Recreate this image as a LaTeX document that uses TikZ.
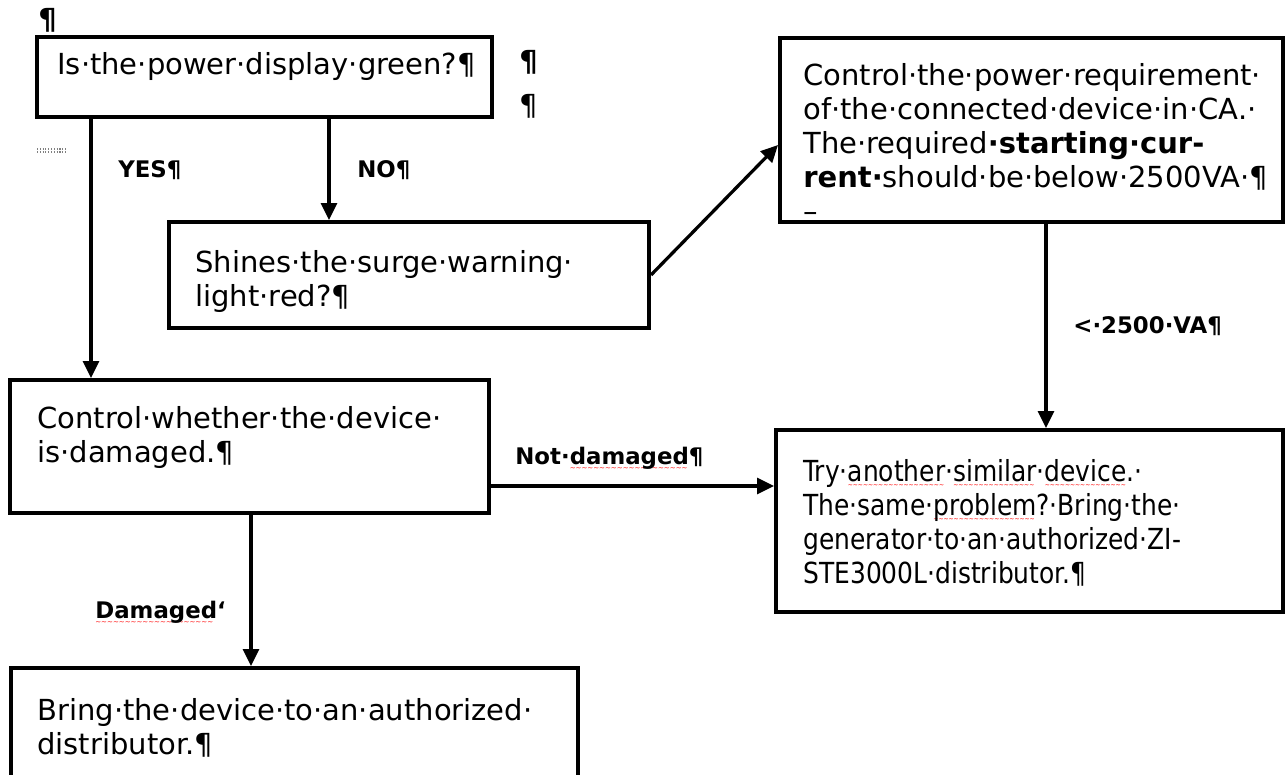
\documentclass[tikz,border=0pt]{standalone}
\usepackage{fontspec}
\setmainfont{DejaVu Sans}
\newfontfamily\tahomafont{DejaVu Sans}[FakeStretch=0.86]
\usetikzlibrary{arrows.meta,calc}

\newsavebox\wavybox
\newcommand\wavy[1]{\sbox\wavybox{#1}\rlap{\lower3.5pt\hbox to\wd\wavybox{\color{red}\fontsize{4}{4}\selectfont\mdseries\leaders\hbox{∼}\hfill}}#1}

\tikzset{
  box/.style={draw, line width=0.08cm, rectangle, inner sep=0pt},
  boxtext/.style={anchor=north west, inner sep=0pt, align=left, font=\fontsize{16.5}{19.3}\selectfont},
  lbl/.style={anchor=north west, inner sep=0pt, font=\fontsize{13}{15}\selectfont\bfseries},
  arr/.style={line width=0.065cm, -{Triangle[length=0.34cm,width=0.32cm]}}
}

\begin{document}
\begin{tikzpicture}[x=0.02cm, y=-0.02cm]
    \useasboundingbox (0,0) rectangle (1287,774);

    \node[box, minimum width=455*0.02cm, minimum height=80*0.02cm]  (q1) at (264.5,77) {};
    \node[box, minimum width=480*0.02cm, minimum height=106*0.02cm] (q2) at (409,275) {};
    \node[box, minimum width=479*0.02cm, minimum height=133*0.02cm] (c1) at (249.5,446.5) {};
    \node[box, minimum width=503*0.02cm, minimum height=184*0.02cm] (c2) at (1031.5,130) {};
    \node[box, minimum width=507*0.02cm, minimum height=182*0.02cm] (t1) at (1029.5,521) {};
    \node[box, minimum width=567*0.02cm, minimum height=122*0.02cm] (b1) at (294.5,729) {};

    \node[boxtext] (q1text) at (57,52) {Is·the·power·display·green?¶};
    \node[boxtext] (q2text) at (195,250) {Shines·the·surge·warning·\\light·red?¶};
    \node[boxtext] (c1text) at (37,406) {Control·whether·the·device·\\is·damaged.¶};
    \node[boxtext] (c2text) at (803,63) {Control·the·power·requirement·\\of·the·connected·device·in·CA.·\\The·required{\bfseries·starting·cur-}\\{\bfseries rent·}should·be·below·2500VA·¶\\–};
    \node[boxtext, font=\fontsize{16.5}{19.3}\selectfont\tahomafont] (t1text) at (803,459)
        {Try·\wavy{another}·\wavy{similar}·\wavy{device}.·\\The·same·\wavy{problem}?·Bring·the·\\generator·to·an·authorized·ZI-\\STE3000L·distributor.¶};
    \node[boxtext] (b1text) at (37,698) {Bring·the·device·to·an·authorized·\\distributor.¶};

    \node[boxtext, font=\fontsize{16.5}{19.3}\selectfont\bfseries] (p0) at (38,8) {¶};
    \node[boxtext, font=\fontsize{16.5}{19.3}\selectfont\bfseries] (p1) at (519,50) {¶};
    \node[boxtext] (p2) at (519,94) {¶};
    \draw[gray, densely dotted, line width=0.6pt] (37,149) -- (66,149) (37,152) -- (66,152);

    \coordinate (yesx) at (91,0);
    \coordinate (nox) at (329,0);
    \coordinate (vax) at (1046,0);
    \coordinate (dmgx) at (251,0);
    \coordinate (ndy) at (0,486);

    \draw[arr] (q1.south -| yesx) -- (c1.north -| yesx);
    \draw[arr] (q1.south -| nox) -- (q2.north -| nox);
    \draw[arr] (q2.east) -- ($(c2.west)+(0,15)$);
    \draw[arr] (c2.south -| vax) -- (t1.north -| vax);
    \draw[arr] (c1.east |- ndy) -- (t1.west |- ndy);
    \draw[arr] (c1.south -| dmgx) -- (b1.north -| dmgx);

    \node[lbl] (yes) at (118,160) {YES¶};
    \node[lbl] (no) at (357,160) {NO¶};
    \node[lbl] (va) at (1073,316) {<·2500·VA¶};
    \node[lbl] (nd) at (515,447) {Not·\wavy{damaged}¶};
    \node[lbl] (dm) at (95,601) {\wavy{Damaged}‘};
\end{tikzpicture}
\end{document}
